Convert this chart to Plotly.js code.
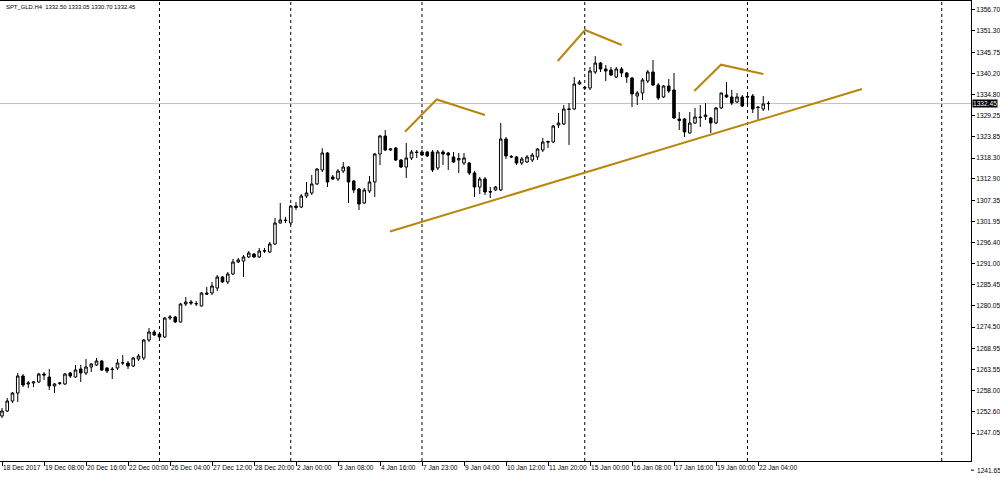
<!DOCTYPE html>
<html>
<head>
<meta charset="utf-8">
<script src="https://cdn.plot.ly/plotly-3.0.1.min.js"></script>
<style>html,body{margin:0;padding:0;background:#fff;}#chart{width:1000px;height:478px;}</style>
</head>
<body>
<div id="chart"></div>
<script>
// ---- data (H4 bars) ----
const symbolTitle = "SPT_GLD.H4  1332.50 1333.05 1330.70 1332.45";
const lastPrice = 1332.45;

const open = [1251.46,1252.76,1255.35,1257.42,1261.83,1259.76,1260.02,1260.28,1262.35,1261.57,
1259.24,1259.89,1259.76,1262.61,1261.57,1263.65,1262.61,1264.16,1264.68,1265.72,
1263.90,1263.65,1263.90,1265.20,1265.20,1264.42,1266.24,1266.50,1271.16,1273.24,
1272.72,1271.94,1276.86,1277.12,1275.83,1280.49,1281.01,1280.49,1279.98,1283.34,
1283.34,1284.64,1287.49,1286.20,1288.27,1291.38,1291.64,1292.68,1293.45,1292.68,
1294.31,1293.97,1296.04,1301.49,1302.27,1301.49,1305.89,1305.63,1308.49,1309.27,
1311.60,1315.23,1319.63,1313.41,1312.89,1314.97,1316.00,1312.37,1310.30,1306.67,
1309.78,1312.12,1319.37,1324.04,1320.41,1320.93,1317.82,1316.00,1318.34,1319.89,
1319.89,1319.89,1319.89,1315.74,1319.89,1319.63,1318.60,1317.82,1317.04,1317.04,
1314.45,1310.82,1312.89,1309.65,1310.04,1310.04,1323.26,1318.73,1318.60,1317.04,
1317.30,1317.82,1318.60,1320.41,1322.61,1322.48,1326.89,1327.15,1330.91,1331.04,
1337.52,1336.62,1336.48,1340.63,1342.96,1341.40,1341.15,1339.33,1341.40,1340.37,
1339.07,1334.41,1335.19,1338.29,1340.63,1337.26,1334.15,1337.00,1335.96,1328.45,
1328.45,1324.82,1327.41,1328.96,1329.04,1328.70,1327.41,1331.30,1334.67,1334.15,
1332.85,1334.15,1334.28,1334.41,1331.55,1331.04,1332.50];

const high = [1253.54,1256.13,1257.68,1262.61,1262.35,1260.53,1260.53,1262.61,1262.87,1263.65,
1260.02,1260.28,1262.61,1262.87,1264.68,1264.68,1266.24,1265.20,1266.50,1265.98,
1264.16,1264.16,1266.24,1267.28,1265.72,1266.76,1267.54,1271.42,1274.27,1273.75,
1272.98,1277.12,1277.64,1277.38,1280.75,1282.31,1281.53,1281.27,1283.60,1284.90,
1286.20,1288.01,1287.75,1288.79,1292.16,1292.42,1293.20,1294.23,1293.71,1295.01,
1295.01,1296.56,1302.79,1306.67,1303.05,1306.15,1306.93,1309.00,1312.12,1313.93,
1315.74,1320.87,1319.89,1313.93,1315.48,1317.30,1316.26,1312.63,1310.56,1310.56,
1313.67,1319.63,1324.30,1325.59,1320.93,1321.19,1318.08,1322.22,1320.41,1320.41,
1320.41,1320.15,1320.41,1320.41,1320.41,1319.89,1319.89,1319.63,1319.63,1317.30,
1314.97,1313.41,1313.41,1310.82,1311.08,1327.41,1323.78,1319.11,1318.86,1318.60,
1319.11,1319.63,1320.93,1323.52,1322.82,1326.89,1330.00,1332.07,1332.59,1339.33,
1338.55,1337.00,1341.92,1344.77,1343.22,1342.44,1341.92,1341.92,1341.92,1340.63,
1339.33,1335.70,1339.07,1341.15,1343.74,1337.78,1337.26,1338.81,1340.37,1330.26,
1328.70,1330.26,1331.30,1332.07,1332.59,1328.96,1331.55,1335.26,1338.04,1335.96,
1335.18,1334.67,1335.18,1334.93,1331.69,1334.41,1333.05];

const low = [1250.94,1252.50,1254.83,1255.09,1258.98,1258.72,1258.98,1260.02,1260.79,1258.21,
1257.42,1259.50,1259.50,1261.31,1261.31,1260.28,1262.09,1262.87,1264.42,1263.13,
1262.61,1261.05,1263.39,1264.68,1263.65,1264.16,1265.72,1265.98,1270.64,1272.20,
1271.68,1271.68,1276.35,1275.57,1275.70,1279.98,1280.23,1279.98,1279.85,1282.82,
1282.82,1283.86,1285.94,1285.68,1288.01,1291.12,1287.49,1292.42,1292.42,1292.42,
1293.71,1293.71,1295.79,1301.36,1301.49,1300.97,1304.86,1305.38,1307.97,1308.75,
1311.34,1314.71,1310.82,1312.63,1312.37,1314.45,1306.67,1309.27,1304.86,1306.41,
1309.27,1308.23,1316.52,1320.15,1320.15,1317.56,1315.74,1313.15,1317.82,1318.34,
1318.86,1318.60,1314.71,1315.23,1316.52,1315.23,1317.04,1314.45,1316.52,1313.93,
1308.23,1309.01,1308.75,1307.97,1309.78,1309.78,1318.08,1318.34,1316.52,1316.52,
1317.04,1317.30,1317.82,1319.89,1320.93,1322.22,1326.11,1326.89,1321.71,1330.78,
1337.26,1335.96,1335.96,1340.11,1340.63,1338.29,1339.59,1339.07,1339.33,1337.78,
1331.55,1332.07,1333.37,1337.78,1337.00,1333.37,1333.89,1335.18,1328.45,1325.59,
1323.78,1324.69,1327.15,1326.37,1328.19,1324.82,1327.15,1331.04,1333.89,1332.07,
1332.59,1331.55,1331.55,1329.99,1327.93,1330.52,1330.70];

const close = [1252.76,1255.35,1257.42,1261.83,1259.50,1260.02,1260.28,1262.35,1262.09,1259.24,
1259.76,1260.02,1262.35,1261.83,1263.39,1262.61,1264.16,1264.94,1265.72,1263.39,
1263.13,1263.52,1265.20,1265.28,1264.42,1266.50,1267.02,1271.16,1273.24,1272.46,
1271.94,1276.86,1277.12,1275.83,1280.49,1281.01,1280.75,1280.62,1283.34,1283.08,
1285.16,1287.49,1286.20,1288.27,1291.38,1291.90,1292.68,1293.71,1292.68,1294.23,
1294.23,1296.04,1301.49,1302.27,1302.14,1305.89,1305.50,1308.49,1309.27,1311.60,
1315.48,1319.63,1312.12,1312.89,1314.97,1316.00,1312.12,1310.04,1306.41,1310.04,
1312.12,1319.37,1324.04,1320.41,1320.67,1317.82,1316.00,1318.34,1319.89,1319.76,
1319.11,1318.86,1315.23,1319.89,1319.37,1319.11,1317.30,1318.21,1318.34,1314.45,
1310.82,1312.89,1309.52,1309.52,1310.82,1323.26,1318.86,1318.60,1317.04,1318.08,
1318.60,1319.11,1320.67,1322.48,1322.48,1326.63,1327.41,1331.04,1331.04,1337.52,
1338.04,1336.48,1340.89,1342.96,1341.40,1340.89,1339.85,1341.40,1340.37,1339.33,
1334.93,1335.19,1338.55,1340.63,1337.26,1333.89,1337.00,1335.70,1328.70,1328.06,
1325.08,1327.41,1328.96,1328.83,1329.48,1327.41,1331.30,1335.19,1334.15,1332.59,
1334.15,1331.81,1334.15,1331.04,1331.42,1332.33,1332.45];

// time-axis labels (every 8th bar)
const xTickBars = [0,8,16,24,32,40,48,56,64,72,80,88,96,104,112,120,128,136,144];
const xTickLabels = ["18 Dec 2017","19 Dec 08:00","20 Dec 16:00","22 Dec 00:00","26 Dec 04:00",
"27 Dec 12:00","28 Dec 20:00","2 Jan 00:00","3 Jan 08:00","4 Jan 16:00","7 Jan 23:00",
"9 Jan 04:00","10 Jan 12:00","11 Jan 20:00","15 Jan 00:00","16 Jan 08:00","17 Jan 16:00",
"19 Jan 00:00","22 Jan 04:00"];

// price-axis labels
const yTickVals = [1356.70,1351.30,1345.75,1340.20,1334.80,1329.25,1323.85,1318.30,1312.90,
1307.35,1301.95,1296.40,1291.00,1285.45,1280.05,1274.50,1268.95,1263.55,1258.00,1252.60,1247.05];
const yBottomLabel = "1241.65";

// vertical separators (bar numbers)
const separatorBars = [30,55,80,111,142,179];

// hand-drawn objects (bar number, price)
const trendBars = [73.9,163.8];
const trendPrices = [1299.29,1336.22];
const leftShoulderBars = [76.76,82.8,92.0];
const leftShoulderPrices = [1325.15,1333.50,1329.48];
const headBars = [105.85,111.05,118.04];
const headPrices = [1343.48,1351.51,1347.63];
const rightShoulderBars = [131.87,136.95,145.01];
const rightShoulderPrices = [1335.70,1342.52,1340.11];

// ---- build ----
const bars = open.map((_, i) => i);
const FONT = "Liberation Sans, Arial, sans-serif";
const FS = 6.6;
const gold = "#b8860b";

const traces = [
  {
    type: "candlestick", x: bars, open: open, high: high, low: low, close: close,
    increasing: {line: {color: "#000", width: 1}, fillcolor: "#ffffff"},
    decreasing: {line: {color: "#000", width: 1}, fillcolor: "#000000"},
    whiskerwidth: 0, hoverinfo: "skip", showlegend: false
  }
];
[[trendBars, trendPrices],[leftShoulderBars,leftShoulderPrices],[headBars,headPrices],[rightShoulderBars,rightShoulderPrices]]
.forEach(p => traces.push({type:"scatter", mode:"lines", x:p[0], y:p[1],
  line:{color:gold, width:2}, hoverinfo:"skip", showlegend:false}));

const shapes = separatorBars.map(b => ({type:"line", xref:"x", yref:"paper", x0:b, x1:b, y0:0, y1:1,
  line:{color:"#000", width:1, dash:"dot"}, layer:"below"}));
shapes.push({type:"line", xref:"paper", yref:"y", x0:0, x1:1, y0:lastPrice, y1:lastPrice,
  line:{color:"#c0c0c0", width:1}, layer:"below"});
// tick for the bottom price label
shapes.push({type:"line", xref:"paper", yref:"paper", x0:1, x1:1.003, y0:-0.02, y1:-0.02,
  line:{color:"#000", width:1}});

const annotations = [
  {xref:"paper", yref:"paper", x:0.004, y:0.997, xanchor:"left", yanchor:"top", showarrow:false,
   text:symbolTitle, font:{family:FONT, size:5.9, color:"#000"}},
  {xref:"paper", yref:"y", x:1.001, y:lastPrice, xanchor:"left", yanchor:"middle", showarrow:false,
   text:lastPrice.toFixed(2), bgcolor:"#000", borderpad:0, font:{family:FONT, size:FS, color:"#fff"}},
  {xref:"paper", yref:"paper", x:1.004, y:-0.02, xanchor:"left", yanchor:"middle", showarrow:false,
   text:yBottomLabel, font:{family:FONT, size:FS, color:"#000"}}
];

const layout = {
  width: 1000, height: 478,
  margin: {l: 0, r: 29, t: 1, b: 17, pad: 0},
  paper_bgcolor: "#fff", plot_bgcolor: "#fff",
  showlegend: false,
  xaxis: {
    range: [-0.38, 184.57], tickmode: "array", tickvals: xTickBars, ticktext: xTickLabels,
    ticks: "outside", ticklen: 4, tickcolor: "#000", ticklabelposition: "outside right",
    tickangle: 0, automargin: false,
    showgrid: false, zeroline: false, showline: true, linecolor: "#000", linewidth: 1, mirror: true,
    rangeslider: {visible: false}, tickfont: {family: FONT, size: FS, color: "#000"}, fixedrange: true
  },
  yaxis: {
    side: "right", range: [1239.80, 1359.03], tickmode: "array", tickvals: yTickVals,
    ticktext: yTickVals.map(v => v.toFixed(2)), automargin: false,
    ticks: "outside", ticklen: 3, tickcolor: "#000",
    showgrid: false, zeroline: false, showline: true, linecolor: "#000", linewidth: 1, mirror: true,
    tickfont: {family: FONT, size: FS, color: "#000"}, fixedrange: true
  },
  shapes: shapes,
  annotations: annotations
};

Plotly.newPlot("chart", traces, layout, {displayModeBar: false, staticPlot: true});
</script>
</body>
</html>
